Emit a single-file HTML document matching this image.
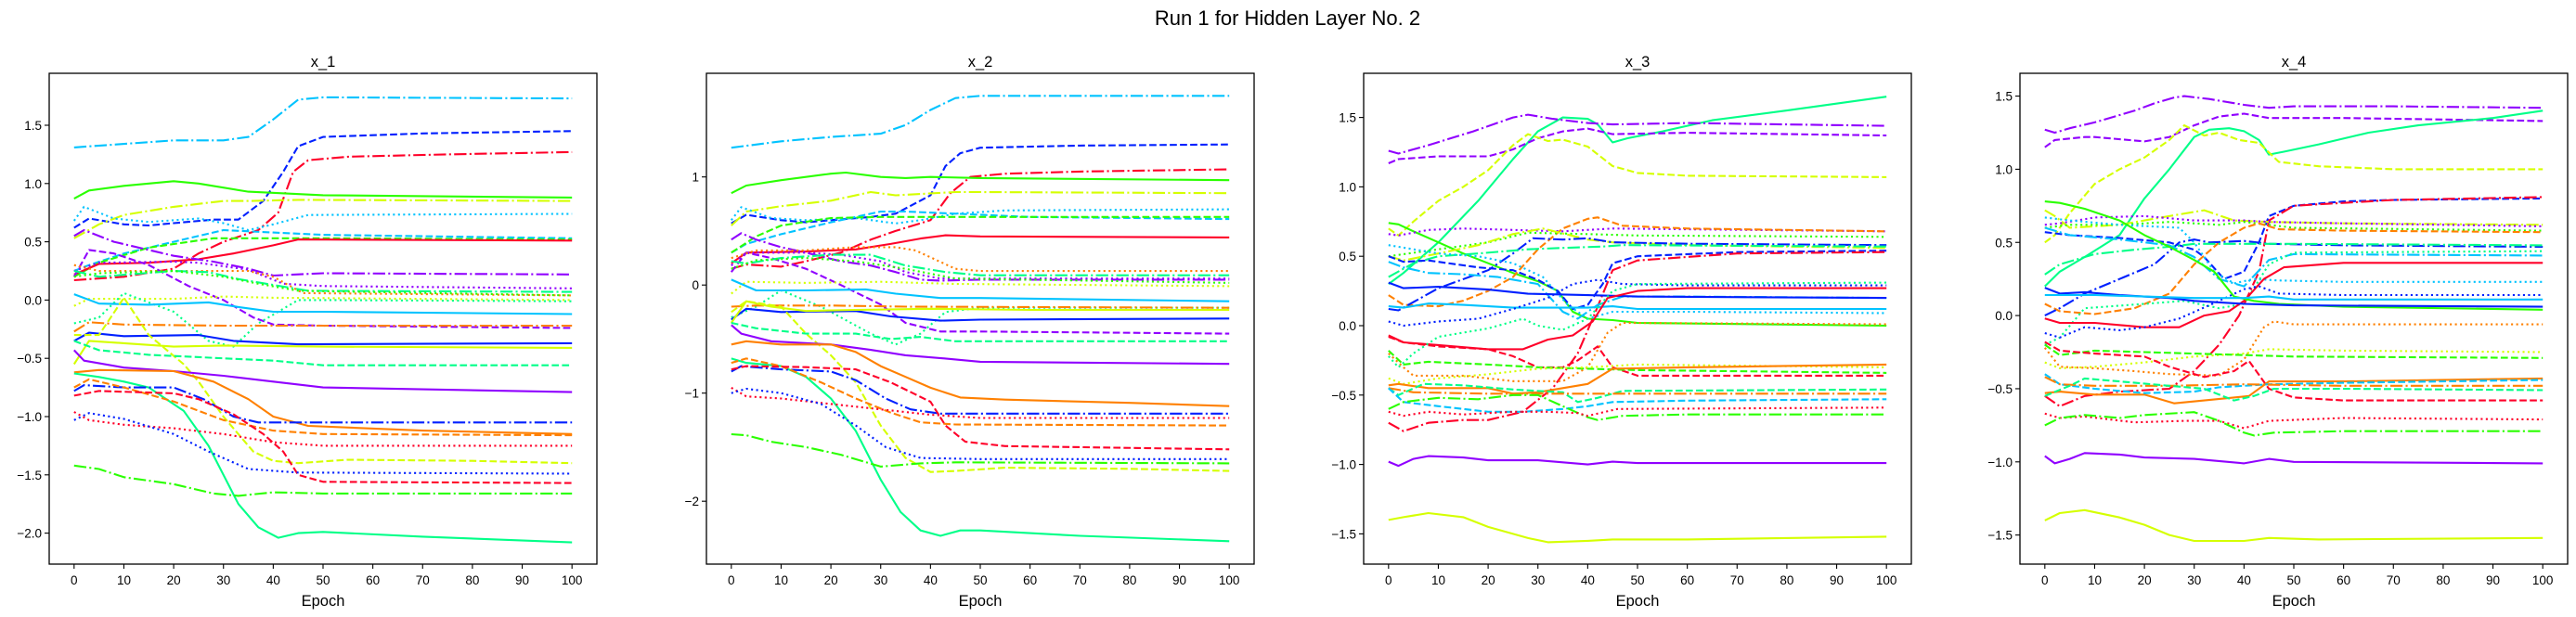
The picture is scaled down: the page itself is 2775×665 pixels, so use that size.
<!DOCTYPE html>
<html><head><meta charset="utf-8"><title>Run 1 for Hidden Layer No. 2</title>
<style>
html,body{margin:0;padding:0;background:#fff;}
svg{display:block;font-family:"Liberation Sans","DejaVu Sans",sans-serif;}
</style></head>
<body>
<svg id="fig" width="2775" height="665" viewBox="0 0 2775 665" xmlns="http://www.w3.org/2000/svg">
<rect width="2775" height="665" fill="#fff"/>
<text x="1387" y="27" font-size="22" text-anchor="middle" fill="#000">Run 1 for Hidden Layer No. 2</text>
</svg>
<script>
const panelTitles = ['x_1','x_2','x_3','x_4'];
const xTicks = [0,10,20,30,40,50,60,70,80,90,100];
const yTicks1 = [-2.0,-1.5,-1.0,-0.5,0.0,0.5,1.0,1.5];
const yTicks2 = [-2,-1,0,1];
const yTicks3 = [-1.5,-1.0,-0.5,0.0,0.5,1.0,1.5];
const yTicks4 = [-1.5,-1.0,-0.5,0.0,0.5,1.0,1.5];
const colorNames = {r:'#ff0029',o:'#ff8000',y:'#d5ff00',g:'#2aff00',s:'#00ff88',c:'#00c3ff',b:'#0020ff',p:'#9000ff'};

// each line: [color, style, epoch/value pairs]
const x1Lines = [
['c','dd',[0,1.31,20,1.37,30,1.37,35,1.40,40,1.55,45,1.72,50,1.74,100,1.73]],
['b','da',[0,0.62,3,0.70,10,0.65,15,0.64,20,0.66,28,0.69,33,0.69,38,0.85,42,1.1,45,1.32,50,1.40,70,1.43,100,1.45]],
['r','dd',[0,0.17,10,0.20,20,0.27,25,0.40,30,0.50,37,0.60,41,0.75,44,1.1,47,1.2,55,1.23,75,1.25,100,1.27]],
['g','so',[0,0.87,3,0.94,10,0.98,20,1.02,25,1.00,35,0.93,50,0.90,100,0.88]],
['y','dd',[0,0.53,5,0.65,10,0.73,20,0.80,30,0.85,35,0.85,45,0.86,100,0.85]],
['c','do',[0,0.68,2,0.80,8,0.70,15,0.67,25,0.70,30,0.66,35,0.60,40,0.65,47,0.73,100,0.74]],
['c','da',[0,0.25,3,0.30,10,0.40,20,0.50,30,0.60,40,0.58,50,0.56,100,0.53]],
['g','da',[0,0.20,5,0.32,15,0.45,28,0.53,50,0.53,100,0.52]],
['r','so',[0,0.22,5,0.31,15,0.32,25,0.35,32,0.40,40,0.47,45,0.52,100,0.51]],
['p','dd',[0,0.55,2,0.60,8,0.50,15,0.43,20,0.38,28,0.33,35,0.27,40,0.21,50,0.23,100,0.22]],
['p','da',[0,0.20,3,0.43,8,0.40,15,0.30,23,0.12,30,0.0,36,-0.15,40,-0.21,50,-0.22,100,-0.24]],
['p','do',[0,0.25,5,0.32,20,0.33,25,0.32,35,0.26,42,0.14,50,0.12,100,0.10]],
['o','do',[0,0.30,5,0.25,20,0.25,30,0.25,35,0.25,40,0.20,46,0.06,100,0.04]],
['s','dd',[0,0.25,5,0.20,20,0.25,27,0.24,33,0.18,40,0.13,47,0.08,100,0.07]],
['g','do',[0,0.20,5,0.23,20,0.25,30,0.20,37,0.14,45,0.08,100,0.04]],
['y','do',[0,-0.05,3,0.01,20,0.01,30,0.03,40,0.02,100,0.0]],
['s','do',[0,-0.2,5,-0.15,10,0.06,20,-0.1,27,-0.35,32,-0.40,37,-0.2,45,0.0,50,0.0,100,-0.01]],
['c','so',[0,0.05,5,-0.03,15,-0.04,27,-0.02,33,-0.06,40,-0.10,50,-0.10,100,-0.12]],
['o','dd',[0,-0.27,3,-0.19,10,-0.21,30,-0.22,100,-0.22]],
['b','so',[0,-0.35,3,-0.28,10,-0.31,25,-0.30,32,-0.35,45,-0.38,100,-0.37]],
['y','so',[0,-0.55,3,-0.35,10,-0.37,20,-0.40,30,-0.39,50,-0.40,100,-0.41]],
['y','da',[0,-0.3,5,-0.3,10,0.02,15,-0.3,22,-0.55,25,-0.7,30,-1.0,36,-1.3,40,-1.38,45,-1.40,55,-1.37,80,-1.38,100,-1.40]],
['s','da',[0,-0.35,5,-0.43,15,-0.47,30,-0.50,40,-0.52,50,-0.56,100,-0.56]],
['p','so',[0,-0.43,2,-0.52,10,-0.58,20,-0.61,30,-0.65,40,-0.70,50,-0.75,100,-0.79]],
['o','so',[0,-0.62,5,-0.60,20,-0.61,28,-0.7,35,-0.85,40,-1.0,47,-1.08,70,-1.12,100,-1.15]],
['s','so',[0,-0.63,5,-0.66,10,-0.70,15,-0.75,22,-0.95,27,-1.25,33,-1.75,37,-1.95,41,-2.04,45,-2.00,50,-1.99,70,-2.03,100,-2.08]],
['b','dd',[0,-0.78,2,-0.73,10,-0.75,20,-0.75,26,-0.85,32,-1.0,37,-1.05,100,-1.05]],
['o','da',[0,-0.75,3,-0.68,10,-0.75,20,-0.87,30,-1.03,40,-1.12,50,-1.15,100,-1.16]],
['r','da',[0,-0.82,5,-0.78,20,-0.80,25,-0.85,32,-0.98,38,-1.15,42,-1.3,45,-1.5,50,-1.56,100,-1.57]],
['r','do',[0,-0.96,3,-1.03,10,-1.07,20,-1.10,30,-1.15,40,-1.22,50,-1.25,100,-1.25]],
['b','do',[0,-1.03,3,-0.97,10,-1.02,20,-1.15,27,-1.30,35,-1.45,45,-1.48,100,-1.49]],
['g','dd',[0,-1.42,5,-1.45,10,-1.52,20,-1.58,28,-1.66,33,-1.68,40,-1.65,50,-1.66,100,-1.66]]
];
const x2Lines = [
['c','dd',[0,1.27,10,1.33,20,1.37,30,1.40,35,1.48,40,1.62,45,1.73,50,1.75,100,1.75]],
['b','da',[0,0.57,3,0.65,10,0.60,15,0.58,20,0.60,28,0.63,33,0.66,40,0.83,43,1.1,46,1.22,50,1.27,70,1.29,100,1.30]],
['r','dd',[0,0.15,3,0.19,10,0.17,15,0.22,22,0.30,28,0.42,33,0.50,40,0.60,44,0.85,48,1.00,55,1.03,70,1.05,100,1.07]],
['g','so',[0,0.85,3,0.92,10,0.97,20,1.03,23,1.04,30,1.00,35,0.99,40,1.00,50,0.99,100,0.97]],
['y','dd',[0,0.55,3,0.68,10,0.73,20,0.78,28,0.86,33,0.83,45,0.86,50,0.86,100,0.85]],
['c','do',[0,0.60,2,0.72,8,0.62,15,0.60,25,0.62,33,0.57,38,0.60,45,0.66,55,0.69,100,0.70]],
['c','da',[0,0.30,3,0.38,10,0.47,20,0.58,30,0.68,35,0.68,45,0.66,60,0.63,100,0.61]],
['g','da',[0,0.30,5,0.45,10,0.55,20,0.62,30,0.63,100,0.63]],
['r','so',[0,0.2,3,0.30,15,0.31,25,0.33,32,0.38,38,0.43,43,0.46,50,0.45,100,0.44]],
['p','dd',[0,0.42,2,0.48,5,0.42,10,0.35,15,0.30,22,0.22,28,0.18,33,0.12,38,0.05,42,0.04,50,0.05,100,0.05]],
['p','da',[0,0.12,3,0.30,8,0.25,15,0.15,22,0.0,30,-0.18,35,-0.35,42,-0.43,50,-0.43,100,-0.45]],
['p','do',[0,0.18,3,0.30,15,0.30,22,0.28,30,0.22,35,0.12,42,0.06,100,0.06]],
['o','do',[0,0.25,5,0.32,15,0.32,25,0.35,33,0.35,37,0.32,45,0.15,50,0.13,100,0.13]],
['s','dd',[0,0.22,3,0.20,10,0.25,20,0.28,28,0.28,35,0.18,43,0.12,50,0.09,100,0.09]],
['g','do',[0,0.15,5,0.23,15,0.25,25,0.22,35,0.15,45,0.06,100,0.02]],
['y','do',[0,-0.08,3,0.03,15,0.02,30,0.03,45,0.01,100,-0.01]],
['s','do',[0,-0.3,5,-0.2,10,-0.05,18,-0.2,28,-0.45,33,-0.55,38,-0.45,43,-0.25,50,-0.21,100,-0.21]],
['c','so',[0,0.05,5,-0.05,15,-0.05,27,-0.04,33,-0.08,42,-0.12,50,-0.12,100,-0.15]],
['o','dd',[0,-0.2,5,-0.19,20,-0.19,35,-0.20,100,-0.21]],
['b','so',[0,-0.32,3,-0.22,10,-0.25,25,-0.24,32,-0.29,42,-0.33,50,-0.32,100,-0.31]],
['y','so',[0,-0.35,3,-0.15,8,-0.2,15,-0.24,25,-0.23,40,-0.22,60,-0.23,100,-0.23]],
['y','da',[0,-0.25,3,-0.15,10,-0.2,15,-0.45,20,-0.65,25,-0.9,30,-1.3,35,-1.6,40,-1.73,45,-1.72,55,-1.69,80,-1.70,100,-1.72]],
['s','da',[0,-0.35,5,-0.40,15,-0.45,25,-0.45,32,-0.50,38,-0.48,45,-0.52,100,-0.52]],
['p','so',[0,-0.37,2,-0.45,8,-0.52,20,-0.55,28,-0.60,35,-0.65,43,-0.68,50,-0.71,100,-0.73]],
['o','so',[0,-0.55,3,-0.52,10,-0.55,20,-0.55,25,-0.62,30,-0.75,35,-0.85,40,-0.95,46,-1.04,55,-1.06,80,-1.09,100,-1.12]],
['s','so',[0,-0.68,3,-0.72,10,-0.75,15,-0.85,20,-1.05,25,-1.35,30,-1.8,34,-2.1,38,-2.27,42,-2.32,46,-2.27,50,-2.27,70,-2.32,100,-2.37]],
['b','dd',[0,-0.8,2,-0.75,10,-0.78,20,-0.80,25,-0.88,31,-1.05,36,-1.15,42,-1.19,100,-1.19]],
['o','da',[0,-0.72,3,-0.68,10,-0.75,18,-0.90,25,-1.05,32,-1.18,38,-1.27,45,-1.29,100,-1.30]],
['r','da',[0,-0.78,3,-0.75,15,-0.76,25,-0.78,32,-0.90,40,-1.08,43,-1.30,47,-1.45,55,-1.49,100,-1.52]],
['r','do',[0,-0.95,3,-1.03,10,-1.05,20,-1.10,30,-1.15,40,-1.20,50,-1.23,100,-1.23]],
['b','do',[0,-1.0,3,-0.96,10,-1.0,18,-1.10,25,-1.30,31,-1.50,38,-1.6,50,-1.61,100,-1.61]],
['g','dd',[0,-1.38,3,-1.39,8,-1.45,15,-1.50,22,-1.57,30,-1.68,38,-1.65,45,-1.64,100,-1.65]]
];
const x3Lines = [
['s','so',[0,0.30,3,0.38,10,0.60,18,0.90,25,1.20,30,1.40,35,1.50,40,1.49,42,1.45,45,1.32,48,1.35,55,1.40,65,1.48,80,1.55,100,1.65]],
['p','dd',[0,1.26,2,1.24,8,1.30,17,1.40,25,1.50,28,1.52,33,1.49,40,1.46,45,1.45,60,1.46,100,1.44]],
['p','da',[0,1.17,2,1.20,10,1.22,20,1.22,25,1.27,30,1.35,35,1.40,40,1.42,45,1.38,60,1.39,100,1.37]],
['y','da',[0,0.70,2,0.65,5,0.75,10,0.90,15,1.0,20,1.12,25,1.30,28,1.38,32,1.33,35,1.34,40,1.29,45,1.15,50,1.10,60,1.08,100,1.07]],
['g','so',[0,0.74,2,0.73,5,0.68,10,0.60,15,0.52,20,0.45,25,0.38,30,0.32,34,0.25,37,0.10,40,0.05,45,0.04,50,0.02,100,0.0]],
['p','do',[0,0.66,2,0.65,8,0.69,15,0.70,25,0.69,35,0.68,45,0.70,100,0.68]],
['o','da',[0,0.22,3,0.15,10,0.14,15,0.18,20,0.25,25,0.35,30,0.55,35,0.70,40,0.77,42,0.78,47,0.72,60,0.70,100,0.68]],
['g','do',[0,0.5,10,0.55,20,0.6,28,0.67,40,0.66,50,0.65,100,0.64]],
['y','dd',[0,0.50,3,0.47,10,0.52,18,0.58,25,0.66,31,0.70,40,0.62,45,0.60,60,0.58,100,0.56]],
['b','dd',[0,0.12,2,0.11,5,0.17,10,0.27,20,0.40,25,0.52,29,0.63,35,0.62,40,0.63,45,0.60,60,0.59,100,0.58]],
['s','dd',[0,0.35,5,0.45,10,0.50,18,0.52,28,0.55,35,0.56,43,0.57,47,0.58,100,0.57]],
['b','da',[0,0.50,3,0.46,8,0.47,18,0.42,25,0.40,30,0.33,34,0.25,37,0.12,40,0.15,43,0.30,45,0.45,50,0.50,70,0.53,100,0.54]],
['r','dd',[0,-0.70,3,-0.76,8,-0.70,15,-0.68,20,-0.68,27,-0.62,33,-0.45,38,-0.20,41,0.05,45,0.40,50,0.47,70,0.52,100,0.53]],
['c','do',[0,0.58,5,0.55,10,0.52,18,0.50,25,0.45,31,0.35,36,0.15,40,0.05,45,0.10,60,0.10,100,0.09]],
['c','dd',[0,0.46,3,0.42,8,0.38,15,0.37,22,0.35,30,0.30,35,0.10,38,0.05,42,0.15,47,0.21,60,0.21,100,0.20]],
['b','so',[0,0.31,3,0.27,10,0.28,20,0.26,28,0.23,40,0.22,50,0.21,100,0.20]],
['c','so',[0,0.14,3,0.13,8,0.16,15,0.15,25,0.13,40,0.13,45,0.14,50,0.12,100,0.12]],
['b','do',[0,0.03,3,0.0,10,0.03,18,0.05,25,0.12,32,0.20,37,0.30,42,0.33,47,0.30,60,0.29,100,0.29]],
['r','so',[0,-0.07,3,-0.12,10,-0.14,20,-0.17,27,-0.17,32,-0.10,37,-0.07,41,0.03,44,0.2,50,0.25,60,0.27,100,0.27]],
['s','do',[0,-0.22,2,-0.3,5,-0.2,10,-0.08,20,-0.02,27,0.05,30,0.0,35,-0.03,40,0.05,45,0.25,50,0.30,100,0.31]],
['r','da',[0,-0.08,3,-0.12,10,-0.15,20,-0.17,25,-0.22,30,-0.30,35,-0.30,38,-0.25,42,-0.15,45,-0.30,50,-0.36,100,-0.36]],
['o','do',[0,-0.20,3,-0.30,5,-0.36,15,-0.36,25,-0.40,35,-0.40,40,-0.30,44,-0.05,47,0.02,100,0.01]],
['g','da',[0,-0.18,3,-0.28,8,-0.26,20,-0.28,30,-0.30,40,-0.31,50,-0.32,100,-0.34]],
['y','do',[0,-0.38,3,-0.42,10,-0.38,20,-0.35,30,-0.31,40,-0.30,50,-0.28,100,-0.30]],
['o','so',[0,-0.43,2,-0.42,8,-0.45,20,-0.45,25,-0.49,30,-0.48,35,-0.45,40,-0.42,45,-0.31,60,-0.30,100,-0.28]],
['s','da',[0,-0.45,2,-0.50,7,-0.42,15,-0.43,25,-0.46,35,-0.48,38,-0.55,42,-0.52,47,-0.47,100,-0.46]],
['o','dd',[0,-0.45,5,-0.48,20,-0.49,100,-0.49]],
['c','da',[0,-0.45,3,-0.55,10,-0.58,20,-0.62,27,-0.62,35,-0.60,40,-0.58,45,-0.55,60,-0.54,100,-0.53]],
['g','dd',[0,-0.60,3,-0.55,10,-0.52,18,-0.53,25,-0.50,30,-0.50,35,-0.58,40,-0.66,42,-0.68,47,-0.65,60,-0.64,100,-0.64]],
['r','do',[0,-0.62,3,-0.65,8,-0.62,15,-0.64,25,-0.62,32,-0.62,38,-0.63,40,-0.65,46,-0.60,100,-0.59]],
['p','so',[0,-0.98,2,-1.01,5,-0.96,8,-0.94,15,-0.95,20,-0.97,30,-0.97,40,-1.0,45,-0.98,50,-0.99,100,-0.99]],
['y','so',[0,-1.40,3,-1.38,8,-1.35,15,-1.38,20,-1.45,28,-1.53,32,-1.56,40,-1.55,45,-1.54,60,-1.54,100,-1.52]]
];
const x4Lines = [
['p','dd',[0,1.27,2,1.25,5,1.28,10,1.32,18,1.40,22,1.45,26,1.49,28,1.50,33,1.48,40,1.44,45,1.42,50,1.43,70,1.43,100,1.42]],
['p','da',[0,1.15,2,1.20,8,1.22,10,1.22,20,1.19,25,1.22,30,1.30,35,1.36,40,1.38,45,1.35,60,1.35,100,1.33]],
['s','so',[0,0.20,3,0.30,8,0.40,15,0.55,20,0.80,25,1.00,30,1.22,33,1.27,37,1.28,40,1.26,43,1.20,45,1.10,48,1.12,55,1.17,65,1.25,75,1.30,90,1.35,100,1.40]],
['y','da',[0,0.50,2,0.55,5,0.70,10,0.90,15,1.0,20,1.08,25,1.20,28,1.30,32,1.23,35,1.25,39,1.20,43,1.18,47,1.05,55,1.02,70,1.00,100,1.00]],
['b','da',[0,0.57,5,0.55,15,0.53,25,0.50,30,0.45,32,0.40,36,0.25,40,0.30,43,0.50,45,0.68,50,0.75,60,0.78,70,0.79,100,0.80]],
['r','dd',[0,-0.55,3,-0.62,8,-0.55,15,-0.52,25,-0.50,30,-0.38,35,-0.20,39,0.0,43,0.30,45,0.65,50,0.75,70,0.79,100,0.81]],
['y','dd',[0,0.72,2,0.68,5,0.60,15,0.62,25,0.68,32,0.72,38,0.65,45,0.64,60,0.63,100,0.62]],
['p','do',[0,0.62,3,0.63,10,0.67,20,0.68,30,0.65,40,0.65,45,0.64,60,0.63,100,0.61]],
['g','do',[0,0.60,5,0.62,15,0.62,25,0.64,35,0.62,40,0.64,50,0.60,100,0.58]],
['o','da',[0,0.08,3,0.03,10,0.01,18,0.05,25,0.15,30,0.35,35,0.50,40,0.60,43,0.63,47,0.59,60,0.58,100,0.57]],
['c','do',[0,0.67,5,0.65,15,0.62,27,0.60,30,0.50,34,0.30,38,0.22,42,0.25,47,0.24,60,0.23,100,0.23]],
['b','dd',[0,0.0,3,0.05,8,0.15,15,0.25,22,0.35,27,0.50,30,0.52,33,0.50,40,0.51,45,0.49,60,0.48,100,0.47]],
['s','dd',[0,0.28,3,0.35,10,0.42,18,0.45,25,0.47,30,0.49,40,0.49,50,0.49,100,0.48]],
['c','dd',[0,0.60,5,0.55,15,0.52,25,0.48,30,0.40,35,0.25,40,0.20,45,0.38,50,0.42,100,0.41]],
['s','do',[0,-0.2,3,-0.15,8,0.05,20,0.08,28,0.10,35,0.05,40,0.08,45,0.35,50,0.43,100,0.44]],
['r','so',[0,-0.02,3,-0.05,10,-0.05,20,-0.08,27,-0.08,32,0.0,37,0.03,40,0.10,44,0.25,48,0.33,60,0.36,100,0.36]],
['b','do',[0,-0.12,3,-0.15,8,-0.08,15,-0.10,20,-0.08,27,-0.02,35,0.10,40,0.18,43,0.20,47,0.15,60,0.14,100,0.14]],
['g','so',[0,0.78,3,0.77,8,0.73,15,0.65,20,0.55,25,0.47,30,0.38,34,0.30,38,0.13,42,0.10,47,0.08,60,0.06,100,0.04]],
['b','so',[0,0.19,3,0.15,8,0.16,15,0.14,25,0.12,30,0.10,40,0.08,50,0.07,100,0.06]],
['c','so',[0,0.14,5,0.14,10,0.14,20,0.13,30,0.12,40,0.12,45,0.13,50,0.11,100,0.11]],
['o','do',[0,-0.22,3,-0.35,10,-0.36,18,-0.38,25,-0.40,35,-0.41,40,-0.30,44,-0.08,46,-0.04,50,-0.06,100,-0.06]],
['y','do',[0,-0.32,3,-0.36,10,-0.35,20,-0.32,30,-0.28,40,-0.26,45,-0.23,60,-0.24,100,-0.25]],
['g','da',[0,-0.20,3,-0.27,10,-0.24,20,-0.25,30,-0.26,40,-0.27,50,-0.28,100,-0.29]],
['r','da',[0,-0.18,3,-0.24,10,-0.26,20,-0.28,25,-0.35,32,-0.42,38,-0.38,41,-0.31,45,-0.50,50,-0.56,60,-0.58,100,-0.58]],
['o','so',[0,-0.53,3,-0.52,10,-0.54,20,-0.54,26,-0.60,32,-0.58,38,-0.56,41,-0.55,45,-0.45,60,-0.45,100,-0.43]],
['c','da',[0,-0.40,3,-0.47,10,-0.50,20,-0.53,30,-0.52,35,-0.49,45,-0.47,60,-0.46,100,-0.44]],
['o','dd',[0,-0.42,3,-0.47,10,-0.48,25,-0.48,40,-0.47,60,-0.48,100,-0.48]],
['s','da',[0,-0.55,5,-0.48,8,-0.43,15,-0.45,25,-0.48,32,-0.50,38,-0.58,42,-0.55,46,-0.50,60,-0.50,100,-0.51]],
['r','do',[0,-0.67,3,-0.70,8,-0.69,18,-0.73,28,-0.72,35,-0.72,40,-0.77,45,-0.72,60,-0.70,100,-0.71]],
['g','dd',[0,-0.75,3,-0.70,8,-0.68,15,-0.70,20,-0.68,30,-0.66,35,-0.72,40,-0.80,42,-0.82,46,-0.80,60,-0.79,100,-0.79]],
['p','so',[0,-0.96,2,-1.01,5,-0.98,8,-0.94,15,-0.95,20,-0.97,30,-0.98,40,-1.01,45,-0.98,50,-1.0,100,-1.01]],
['y','so',[0,-1.40,3,-1.35,8,-1.33,15,-1.38,20,-1.43,25,-1.50,30,-1.54,40,-1.54,45,-1.52,55,-1.53,100,-1.52]]
];

const NS = 'http://www.w3.org/2000/svg';
const svg = document.getElementById('fig');
const dashes = {so:'', da:'7.7 3.3', dd:'13.3 3.3 2.1 3.3', do:'2.1 3.4'};
const styleNames = {so:'solid', da:'dashed', dd:'dashdot', do:'dotted'};
const panels = [
  {left:53, lines:x1Lines, ticks:yTicks1, y0:323.4, k:125.6, dec:1},
  {left:761, lines:x2Lines, ticks:yTicks2, y0:307.2, k:116.5, dec:0},
  {left:1469, lines:x3Lines, ticks:yTicks3, y0:351.0, k:149.6, dec:1},
  {left:2176, lines:x4Lines, ticks:yTicks4, y0:340.1, k:157.7, dec:1}
];
const TOP = 79, BOTTOM = 608, W = 590;

function mk(tag, attrs, parent){
  const e = document.createElementNS(NS, tag);
  for (const k in attrs) e.setAttribute(k, attrs[k]);
  parent.appendChild(e);
  return e;
}
function fmt(v, dec){
  const s = v.toFixed(dec);
  return s.replace('-', '\u2212');
}

panels.forEach((P, pi) => {
  const xs = e => P.left + (e + 5) / 110 * W;
  const ys = v => P.y0 - v * P.k;
  const g = mk('g', {}, svg);
  
  

  const t = mk('text', {x: P.left + W/2, y: 72, 'font-size': 16.5, 'text-anchor': 'middle', fill: '#000'}, g);
  t.textContent = panelTitles[pi];
  
  

  const cp = 'clip' + pi;
  const defs = mk('defs', {}, g);
  const clip = mk('clipPath', {id: cp}, defs);
  mk('rect', {x: P.left, y: TOP, width: W, height: BOTTOM - TOP}, clip);

  const lg = mk('g', {'clip-path': 'url(#' + cp + ')'}, g);
  
  
  P.lines.forEach(L => {
    const pts = [];
    const d = L[2];
    for (let i = 0; i < d.length; i += 2) pts.push(xs(d[i]).toFixed(1) + ',' + ys(d[i+1]).toFixed(1));
    const pl = mk('polyline', {points: pts.join(' '), fill: 'none', stroke: colorNames[L[0]], 'stroke-width': 2.1, 'stroke-linejoin': 'round'}, lg);
    if (dashes[L[1]]) pl.setAttribute('stroke-dasharray', dashes[L[1]]);
    
    
  });

  const fr = mk('rect', {x: P.left, y: TOP, width: W, height: BOTTOM - TOP, fill: 'none', stroke: '#000', 'stroke-width': 1.3}, g);
  
  

  xTicks.forEach(v => {
    const x = xs(v);
    const tk = mk('line', {x1: x, x2: x, y1: BOTTOM, y2: BOTTOM + 5, stroke: '#000', 'stroke-width': 1.1}, g);
    
    
    const tl = mk('text', {x: x, y: 630, 'font-size': 13.5, 'text-anchor': 'middle', fill: '#000'}, g);
    tl.textContent = String(v);
    
    
  });
  P.ticks.forEach(v => {
    const y = ys(v);
    const tk = mk('line', {x1: P.left - 5, x2: P.left, y1: y, y2: y, stroke: '#000', 'stroke-width': 1.1}, g);
    
    
    const tl = mk('text', {x: P.left - 8, y: y + 5, 'font-size': 13.5, 'text-anchor': 'end', fill: '#000'}, g);
    tl.textContent = fmt(v, P.dec);
    
    
  });
  const xl = mk('text', {x: xs(50), y: 653, 'font-size': 16.5, 'text-anchor': 'middle', fill: '#000'}, g);
  xl.textContent = 'Epoch';
  
  
});
</script>
</body></html>
